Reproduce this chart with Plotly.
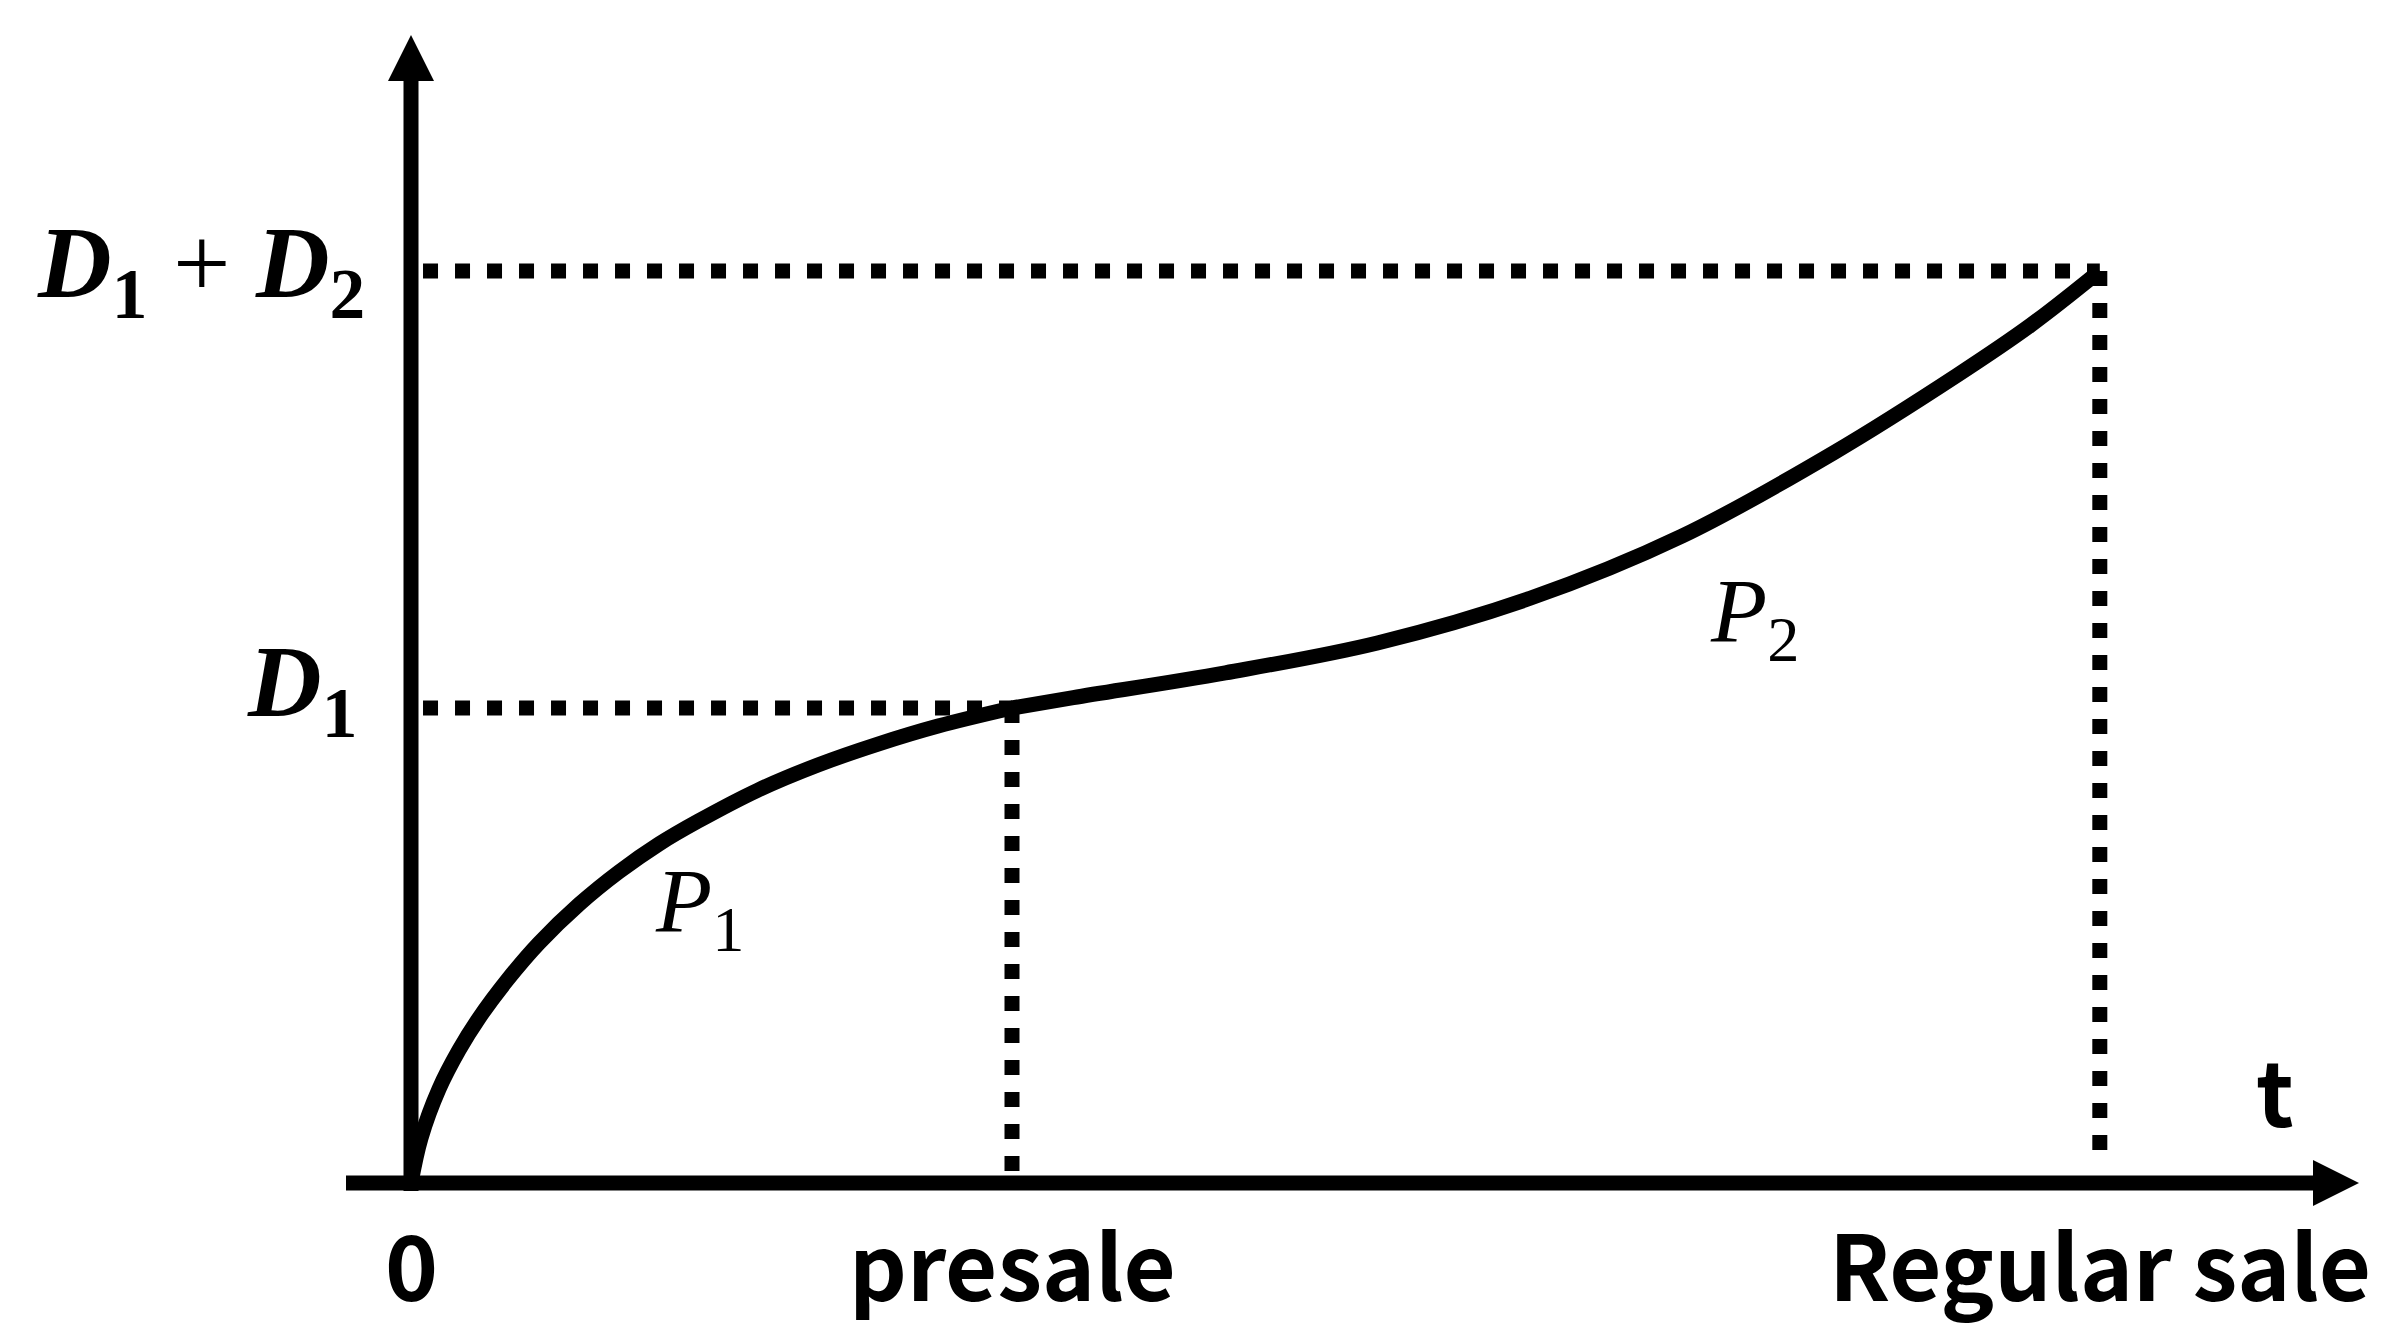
import plotly.graph_objects as go

# cumulative demand curve, data units: presale time = 1, D1 = 1
p1_t = [0, 0.0166, 0.0466, 0.0799, 0.113, 0.160, 0.213, 0.280, 0.346, 0.413,
        0.478, 0.577, 0.677, 0.777, 0.877, 1.0]
p1_d = [0, 0.0947, 0.198, 0.280, 0.347, 0.427, 0.505, 0.587, 0.655, 0.714,
        0.762, 0.827, 0.880, 0.924, 0.962, 1.0]
p2_t = [1.0, 1.102, 1.355, 1.608, 1.862, 2.115, 2.368, 2.572, 2.695, 2.81]
p2_d = [1.0, 1.022, 1.074, 1.137, 1.231, 1.362, 1.538, 1.700, 1.806, 1.92]

presale_t = 1.0
regular_t = 2.81
d1 = 1.0
d1d2 = 1.92

tick_t = [0, presale_t, regular_t]
tick_labels = ["0", "presale", "Regular sale"]

# page geometry (pixels)
W, H = 2386, 1342
X0_PX, Y0_PX = 403, 1175      # where the origin sits
PX_T, PX_D = 601, 475         # pixels per data unit
x_range = [-X0_PX / PX_T, (W - X0_PX) / PX_T]
y_range = [-(H - Y0_PX) / PX_D, Y0_PX / PX_D]

AXIS_W = 15
DOT = dict(color="black", width=15, dash="15px,17px")
HEAD = 46   # arrow head length in px

x_tip = (2351 - X0_PX) / PX_T
y_tip = (Y0_PX - 27) / PX_D

fig = go.Figure()

for tt, dd in [(p1_t, p1_d), (p2_t, p2_d)]:
    fig.add_trace(go.Scatter(x=tt, y=dd, mode="lines",
                             line=dict(color="black", width=15, shape="spline", smoothing=1.0),
                             showlegend=False, hoverinfo="skip"))

shapes = []
# dotted guides
shapes.append(dict(type="line", x0=0.02, x1=regular_t, y0=d1d2, y1=d1d2, line=DOT))
shapes.append(dict(type="line", x0=0.02, x1=presale_t, y0=d1, y1=d1, line=DOT))
shapes.append(dict(type="line", x0=presale_t, x1=presale_t, y0=d1, y1=0, line=DOT))
shapes.append(dict(type="line", x0=regular_t, x1=regular_t, y0=d1d2, y1=0.063, line=DOT))

# axes
shapes.append(dict(type="line", x0=-(X0_PX - 338) / PX_T, x1=x_tip - (HEAD - 4) / PX_T,
                   y0=0, y1=0, line=dict(color="black", width=AXIS_W)))
shapes.append(dict(type="line", x0=0, x1=0, y0=-8 / PX_D, y1=y_tip - (HEAD - 4) / PX_D,
                   line=dict(color="black", width=AXIS_W)))
# arrow heads (pixel sized, anchored at the tips)
shapes.append(dict(type="path", xref="x", yref="y", xsizemode="pixel", ysizemode="pixel",
                   xanchor=0, yanchor=y_tip, path=f"M -23,-{HEAD} L 23,-{HEAD} L 0,0 Z",
                   fillcolor="black", line=dict(width=0)))
shapes.append(dict(type="path", xref="x", yref="y", xsizemode="pixel", ysizemode="pixel",
                   xanchor=x_tip, yanchor=0, path=f"M -{HEAD},-23 L -{HEAD},23 L 0,0 Z",
                   fillcolor="black", line=dict(width=0)))

sans = dict(family="Noto Sans CJK KR", size=90, color="black")
serif = dict(family="Liberation Serif", size=102, color="black")
serif_p = dict(family="Liberation Serif", size=92, color="black")

ann = []
for t, lab in zip(tick_t, tick_labels):
    ann.append(dict(x=t, y=0, text=f"<b>{lab}</b>", showarrow=False, font=sans,
                    xanchor="center", yanchor="top", yshift=-12))
ann.append(dict(x=x_tip, y=0, text="<b>t</b>", showarrow=False, font=sans,
                xanchor="center", yanchor="bottom", xshift=-84, yshift=28))
ann.append(dict(x=0, y=d1d2,
                text="<b><i>D</i><sub>1</sub></b>&nbsp;+&nbsp;<b><i>D</i><sub>2</sub></b>",
                showarrow=False, font=serif, xanchor="right", yanchor="middle",
                xshift=-44, yshift=2))
ann.append(dict(x=0, y=d1, text="<b><i>D</i><sub>1</sub></b>",
                showarrow=False, font=serif, xanchor="right", yanchor="middle",
                xshift=-52, yshift=20))
ann.append(dict(x=0.48, y=0.58, text="<i>P</i><sub>1</sub>", showarrow=False, font=serif_p))
ann.append(dict(x=2.236, y=1.19, text="<i>P</i><sub>2</sub>", showarrow=False, font=serif_p))

fig.update_layout(
    width=W, height=H,
    margin=dict(l=0, r=0, t=0, b=0),
    paper_bgcolor="white", plot_bgcolor="white",
    xaxis=dict(range=x_range, visible=False, fixedrange=True),
    yaxis=dict(range=y_range, visible=False, fixedrange=True),
    shapes=shapes, annotations=ann,
    showlegend=False,
)

fig.write_html("out.html")
